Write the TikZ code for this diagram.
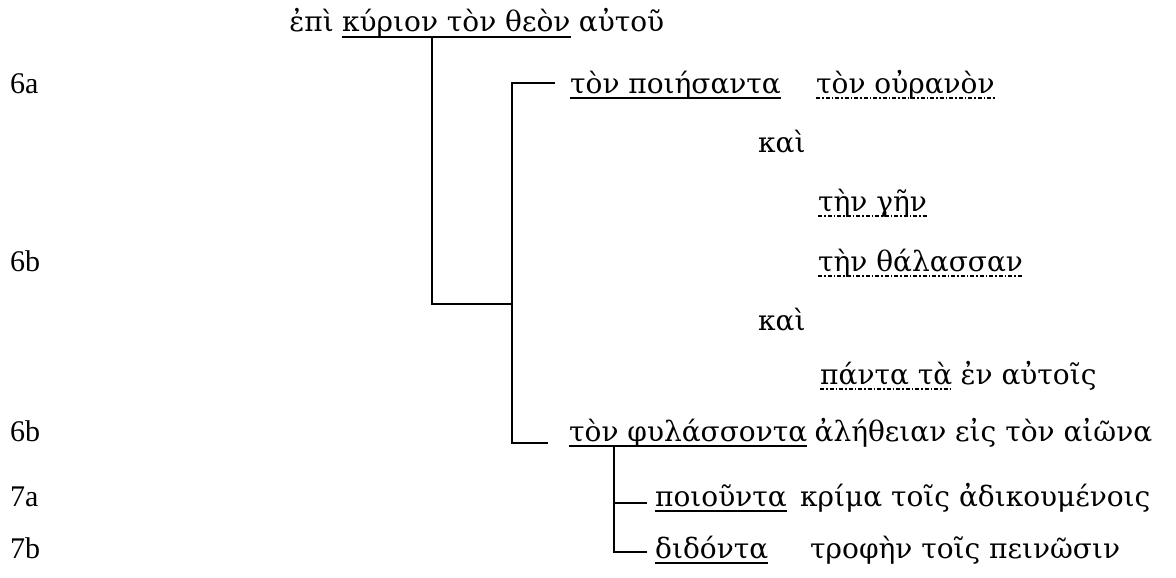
\documentclass[tikz,border=0pt]{standalone}
\usepackage{fontspec}
\setmainfont{Liberation Serif}
\newfontfamily\grk{DejaVu Serif}
\begin{document}
\begin{tikzpicture}[x=1pt,y=-1pt,
  txt/.style={anchor=base west,inner sep=0pt,font=\grk\fontsize{28}{32}\selectfont},
  lbl/.style={anchor=base west,inner sep=0pt,font=\fontsize{30}{32}\selectfont},
  conn/.style={line width=1.6pt},
  ul/.style={line width=1.4pt},
  dul/.style={line width=1.4pt,dash pattern=on 4pt off 2pt on 1.5pt off 2pt}]
\useasboundingbox (0,0) rectangle (1176,578);
% row labels
\node[lbl] (l1) at (10,93) {6a};
\node[lbl] (l2) at (10,271) {6b};
\node[lbl] (l3) at (10,441) {6b};
\node[lbl] (l4) at (10,506) {7a};
\node[lbl] (l5) at (10,558) {7b};
% row 1
\node[txt] (kyr) at (342,32) {κύριον τὸν θεὸν};
\node[txt,anchor=base east] (epi) at ([xshift=-8pt]kyr.base west) {ἐπὶ};
\node[txt] (aut) at ([xshift=8pt]kyr.base east) {αὐτοῦ};
% rows
\node[txt] (poi) at (570,93) {τὸν ποιήσαντα};
\node[txt] (our) at (816,93) {τὸν οὐρανὸν};
\node[txt] (kai1) at (758,152) {καὶ};
\node[txt] (gen) at (818,211) {τὴν γῆν};
\node[txt] (thal) at (818,271) {τὴν θάλασσαν};
\node[txt] (kai2) at (758,330) {καὶ};
\node[txt] (pan) at (820,384) {πάντα τὰ};
\node[txt] (enaut) at ([xshift=8pt]pan.base east) {ἐν αὐτοῖς};
\node[txt] (phyl) at (569,441) {τὸν φυλάσσοντα};
\node[txt] (alet) at ([xshift=7pt]phyl.base east) {ἀλήθειαν εἰς τὸν αἰῶνα};
\node[txt] (poiu) at (655,506) {ποιοῦντα};
\node[txt] (krim) at (800,506) {κρίμα τοῖς ἀδικουμένοις};
\node[txt] (didon) at (655,558) {διδόντα};
\node[txt] (troph) at (810,558) {τροφὴν τοῖς πεινῶσιν};
% underlines
\foreach \n in {kyr,poi,phyl,poiu,didon}
  \draw[ul] ([yshift=-5pt]\n.base west) -- ([yshift=-5pt]\n.base east);
\foreach \n in {our,gen,thal,pan}
  \draw[dul] ([yshift=-5pt]\n.base west) -- ([yshift=-5pt]\n.base east);
% connectors
\coordinate (kd) at (432,37);
\coordinate (bm) at (512,304);
\coordinate (bt) at (512,83);
\coordinate (bb) at (512,443);
\coordinate (pt) at (555,83);
\coordinate (pb) at (548,443);
\draw[conn] (kd) |- (bm);
\draw[conn] (pt) -- (bt) -- (bb) -- (pb);
\coordinate (st) at (614,446);
\coordinate (s1) at (647,503);
\coordinate (s2) at (647,552);
\draw[conn] (st) |- (s2);
\draw[conn] (st |- s1) -- (s1);
\end{tikzpicture}
\end{document}
